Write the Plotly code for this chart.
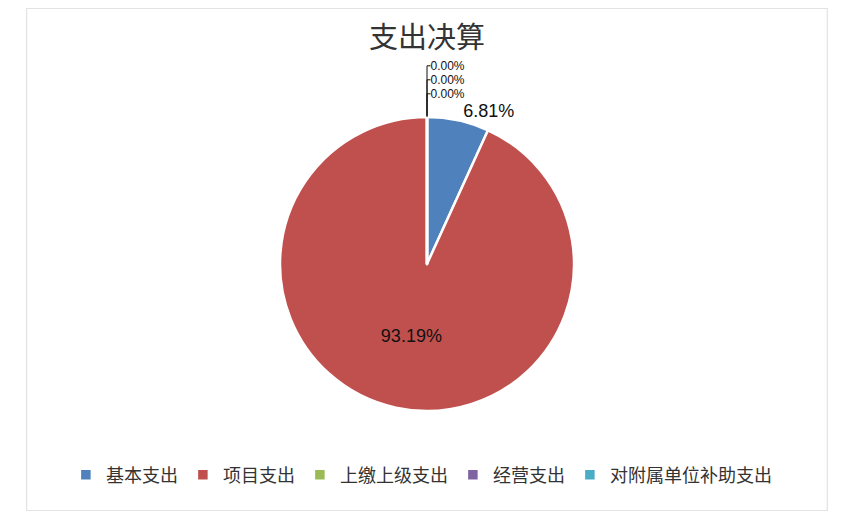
import plotly.graph_objects as go

categories = ["基本支出", "项目支出", "上缴上级支出", "经营支出", "对附属单位补助支出"]
values = [6.81, 93.19, 0, 0, 0]
colors = ["#4F81BD", "#C0504D", "#9BBB59", "#8064A2", "#4BACC6"]
title_text = "支出决算"

W, H = 838, 503

fig = go.Figure(go.Pie(
    labels=categories,
    values=values,
    sort=False,
    direction="clockwise",
    rotation=0,
    marker=dict(colors=colors, line=dict(color="white", width=2.5)),
    texttemplate="%{percent:.2%}",
    textposition=["outside", "inside", "outside", "outside", "outside"],
    textfont=dict(family="Liberation Sans, Arial", size=[18, 18, 12, 12, 12], color="#111111"),
    insidetextorientation="horizontal",
    showlegend=True,
    domain=dict(x=[0.15, 0.85], y=[1 - 403 / H, 1 - 109 / H]),
    hoverinfo="label+percent",
))

fig.update_layout(
    width=W, height=H,
    margin=dict(l=0, r=0, t=0, b=0),
    paper_bgcolor="white",
    title=dict(text=title_text, x=0.5, xanchor="center", y=1 - 30 / H, yanchor="middle",
               font=dict(family="Noto Sans CJK SC", size=29, color="#333333")),
    legend=dict(orientation="h", x=0.493, xanchor="center", y=1 - 467 / H, yanchor="middle",
                font=dict(family="Noto Sans CJK SC", size=18, color="#333333"),
                itemwidth=30, traceorder="normal"),
    shapes=[dict(type="rect", xref="paper", yref="paper", x0=0.0008, x1=0.9992, y0=0.001, y1=0.999,
                 line=dict(color="#E3E3E3", width=1.2))],
)

fig.write_html("out.html")
